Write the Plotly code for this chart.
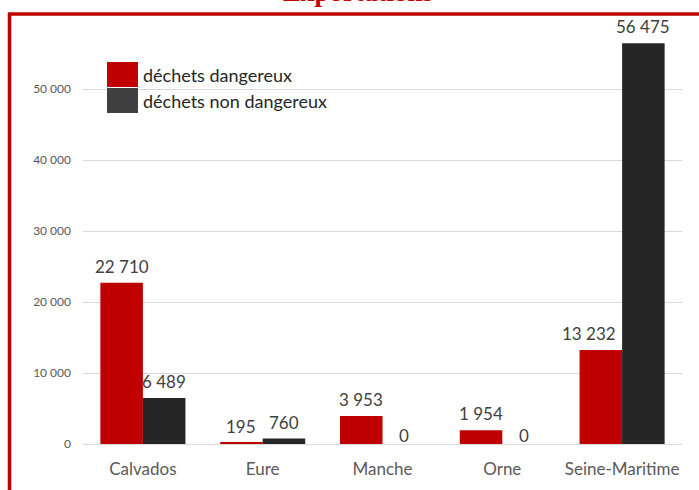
import plotly.graph_objects as go

# données
departements = ["Calvados", "Eure", "Manche", "Orne", "Seine-Maritime"]
dangereux = [22710, 195, 3953, 1954, 13232]
non_dangereux = [6489, 760, 0, 0, 56475]
noms_series = ["déchets dangereux", "déchets non dangereux"]
titre = "Exportations"

ROUGE = "#C00000"
NOIR = "#262626"
GRIS_LEGENDE = "#404040"

W, H = 699, 490
ML, MR, MT, MB = 83, 17, 19, 46
PW, PH = W - ML - MR, H - MT - MB
BARGAP = 0.29


def px_x(px):
    return (px - ML) / PW


def px_y(py):
    return (H - MB - py) / PH


def fmt(v):
    return f"{v:,d}".replace(",", " ")


fig = go.Figure()
for nom, valeurs, coul in [(noms_series[0], dangereux, ROUGE),
                           (noms_series[1], non_dangereux, NOIR)]:
    fig.add_trace(go.Bar(
        x=departements, y=valeurs, name=nom,
        marker=dict(color=coul, line=dict(width=0)),
    ))

# étiquettes de valeurs (au-dessus des barres, comme Excel)
demi_barre = PW / len(departements) * (1 - BARGAP) / 4
for k, valeurs in enumerate([dangereux, non_dangereux]):
    for dep, v in zip(departements, valeurs):
        dx = -demi_barre if k == 0 else demi_barre
        if k == 0 and dep == "Seine-Maritime":
            dx -= 12  # Excel décale l'étiquette pour éviter la barre voisine
        fig.add_annotation(x=dep, y=v, text=fmt(v), showarrow=False,
                           xanchor="center", yanchor="bottom",
                           xshift=dx, yshift=4 if v > 0 else -4,
                           font=dict(size=17, color="#404040"))

# cadre rouge (gauche + haut)
fig.add_shape(type="line", xref="paper", yref="paper",
              x0=px_x(9.5), x1=px_x(9.5), y0=px_y(13), y1=px_y(495),
              line=dict(color=ROUGE, width=3.5))
fig.add_shape(type="line", xref="paper", yref="paper",
              x0=px_x(8), x1=px_x(705), y0=px_y(14), y1=px_y(14),
              line=dict(color=ROUGE, width=3.5))

# légende dessinée à la main (grands carrés comme dans l'original)
couleurs_legende = [ROUGE, GRIS_LEGENDE]
for i, (nom, coul) in enumerate(zip(noms_series, couleurs_legende)):
    y0 = 62 + i * 26
    fig.add_shape(type="rect", xref="paper", yref="paper",
                  x0=px_x(107), x1=px_x(138), y0=px_y(y0), y1=px_y(y0 + 25),
                  fillcolor=coul, line=dict(width=0))
    fig.add_annotation(xref="paper", yref="paper", x=px_x(141), y=px_y(y0 + 12.5),
                       text=nom, showarrow=False, xanchor="left", yanchor="middle",
                       font=dict(size=18, color="#262626"))

fig.add_annotation(xref="paper", yref="paper", x=px_x(358), y=px_y(9),
                   text="<b>" + titre + "</b>", showarrow=False,
                   xanchor="center", yanchor="bottom",
                   font=dict(family="Liberation Serif", size=27, color=ROUGE))

fig.update_layout(
    width=W, height=H,
    margin=dict(l=ML, r=MR, t=MT, b=MB, autoexpand=False),
    paper_bgcolor="white", plot_bgcolor="white",
    font=dict(family="Lato", color="#595959"),
    separators=", ",
    barmode="group", bargap=BARGAP, bargroupgap=0,
    showlegend=False,
)
fig.update_xaxes(showline=True, linecolor="#d9d9d9", linewidth=1,
                 tickfont=dict(size=17, color="#595959"), ticks="",
                 ticklabelstandoff=10)
fig.update_yaxes(range=[0, 59900], dtick=10000, tickformat=",d",
                 showgrid=True, gridcolor="#d9d9d9", gridwidth=1,
                 zeroline=False, showline=False,
                 tickfont=dict(size=12, color="#595959"),
                 ticklabelstandoff=11)

# la page garde sinon une marge de 8 px autour du graphique
fig.write_html("out.html", config={"displayModeBar": False},
               post_script="document.body.style.margin='0';")
